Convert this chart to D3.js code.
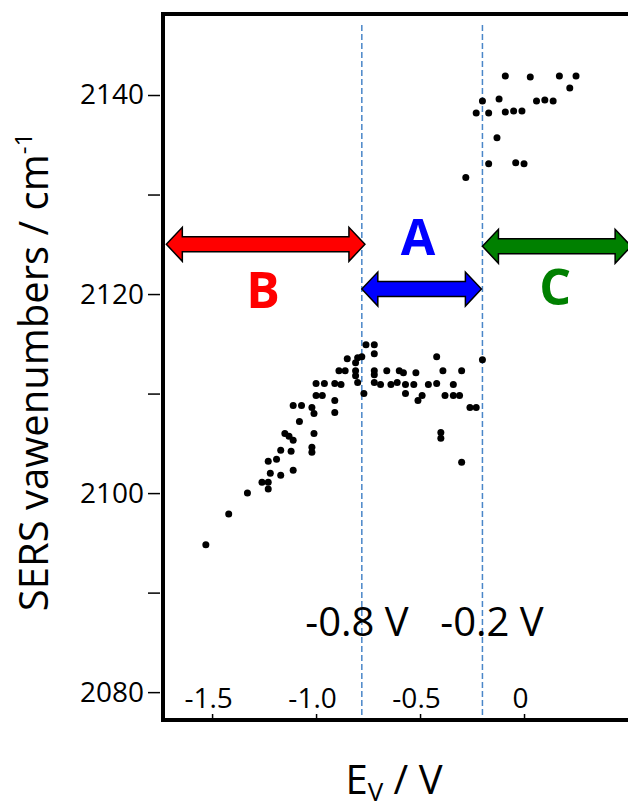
<!DOCTYPE html>
<html>
<head>
  <script src="https://d3js.org/d3.v7.min.js"></script>
  <style>
    body { margin: 0; background: #fff; }
    text { font-family: "Open Sans", "Noto Sans", sans-serif; }
  </style>
</head>
<body>
  <svg id="canvas" width="628" height="804"></svg>
  <script>
    const svg = d3.select("#canvas");
    const width = +svg.attr("width");
    const height = +svg.attr("height");

    // measured points: electrode potential (V) vs SERS wavenumber (cm-1)
    const potential = [
      -1.53, -1.42, -1.33, -1.26, -1.23, -1.23, -1.22, -1.17, -1.11, -1.23,
      -1.19, -1.17, -1.12, -1.02, -1.02, -1.15, -1.13, -1.11, -1.01, -1.08,
      -1.11, -1.07, -1.02, -1.01, -0.91, -0.91, -1.00, -0.97, -1.00, -0.96,
      -0.91, -0.88, -0.89, -0.86, -0.81, -0.81, -0.80, -0.85, -0.81, -0.80,
      -0.78, -0.76, -0.72, -0.72, -0.77, -0.72, -0.72, -0.72, -0.69, -0.66,
      -0.64, -0.61, -0.60, -0.58, -0.57, -0.53, -0.57, -0.52, -0.51, -0.49,
      -0.46, -0.42, -0.42, -0.39, -0.34, -0.38, -0.34, -0.31, -0.30, -0.26,
      -0.23, -0.40, -0.40, -0.30, -0.20,
      -0.28, -0.17, -0.04, 0.00, -0.13, -0.23, -0.17, -0.20, -0.12, -0.09,
      -0.05, -0.01, 0.06, 0.10, 0.14, -0.09, 0.03, 0.17, 0.25, 0.22
    ];
    const wavenumber = [
      2094.8, 2097.9, 2100.0, 2101.1, 2101.1, 2100.4, 2102.0, 2101.8, 2102.3, 2103.2,
      2103.4, 2104.3, 2104.2, 2104.6, 2104.1, 2106.0, 2105.7, 2105.3, 2106.0, 2107.2,
      2108.8, 2108.8, 2108.6, 2108.0, 2109.3, 2108.1, 2109.8, 2109.8, 2111.0, 2111.0,
      2111.0, 2110.9, 2112.3, 2112.3, 2112.3, 2111.8, 2111.1, 2113.5, 2113.1, 2113.6,
      2113.7, 2114.9, 2114.9, 2114.0, 2110.0, 2112.3, 2111.9, 2111.1, 2110.9, 2112.3,
      2110.9, 2111.1, 2112.3, 2112.1, 2110.9, 2110.9, 2110.0, 2112.1, 2109.3, 2109.8,
      2110.9, 2113.7, 2111.0, 2112.3, 2110.9, 2109.8, 2109.8, 2109.8, 2112.3, 2108.6,
      2108.6, 2106.1, 2105.5, 2103.1, 2113.4,
      2131.7, 2133.1, 2133.2, 2133.1, 2135.7, 2138.2, 2138.2, 2139.4, 2139.6, 2138.3,
      2138.4, 2138.4, 2139.4, 2139.5, 2139.4, 2141.9, 2141.8, 2141.9, 2141.9, 2140.7
    ];

    // regions A / B / C with their arrows
    const regionNames = ["B", "A", "C"];
    const regionStart = [-1.72, -0.78, -0.2];
    const regionEnd = [-0.765, -0.205, 0.515];
    const arrowLevel = [2125.0, 2120.5, 2124.8];
    const labelX = [-1.255, -0.51, 0.15];
    const labelY = [2118.6, 2123.9, 2118.9];
    const regionColors = ["#ff0000", "#0000ff", "#008000"];

    // boundary potentials
    const boundaries = [-0.78, -0.2];
    const boundaryText = ["-0.8 V", "-0.2 V"];
    const boundaryTextX = [-0.803, -0.154];

    const xTicks = [-1.5, -1.0, -0.5, 0];
    const xTickLabels = ["-1.5", "-1.0", "-0.5", "0"];
    const yTicks = [2080, 2090, 2100, 2110, 2120, 2130, 2140];

    const margin = { left: 163, top: 14, bottom: 84 };
    const plotBottom = height - margin.bottom;

    const x = d3.scaleLinear().domain([-1.736, 0.75]).range([margin.left, 680]);
    const y = d3.scaleLinear().domain([2077.2, 2148.14]).range([plotBottom, margin.top]);

    svg.append("rect").attr("width", width).attr("height", height).attr("fill", "#fff");

    // dashed boundaries
    svg.selectAll("line.bound")
      .data(boundaries)
      .enter()
      .append("line")
      .attr("class", "bound")
      .attr("x1", d => x(d)).attr("x2", d => x(d))
      .attr("y1", margin.top + 11).attr("y2", plotBottom)
      .attr("stroke", "#4a86c8")
      .attr("stroke-width", 1.5)
      .attr("stroke-dasharray", "6,3");

    // y axis
    const yAxis = d3.axisLeft(y)
      .tickValues(yTicks)
      .tickSize(12)
      .tickPadding(4)
      .tickFormat(d => d % 20 === 0 ? d : "");
    const gy = svg.append("g")
      .attr("transform", `translate(${margin.left - 3},0)`)
      .call(yAxis);
    gy.select(".domain").remove();
    gy.selectAll("line").attr("stroke", "#000").attr("stroke-width", 1.5);
    gy.selectAll("text")
      .attr("font-size", 28)
      .attr("fill", "#000")
      .attr("font-family", "Open Sans, sans-serif");

    // x axis (ticks and labels inside the box)
    const xAxis = d3.axisTop(x)
      .tickValues(xTicks)
      .tickSize(6)
      .tickPadding(6)
      .tickFormat((d, i) => xTickLabels[i]);
    const gx = svg.append("g")
      .attr("transform", `translate(0,${plotBottom})`)
      .call(xAxis);
    gx.select(".domain").remove();
    gx.selectAll("line").attr("stroke", "#000").attr("stroke-width", 1.5);
    gx.selectAll("text")
      .attr("font-size", 28)
      .attr("fill", "#000")
      .attr("dx", -4)
      .attr("font-family", "Open Sans, sans-serif");

    // frame
    const frame = svg.append("g").attr("stroke", "#000").attr("stroke-width", 4).attr("fill", "none");
    frame.append("path")
      .attr("d", `M${width + 10},${margin.top}H${margin.left}V${plotBottom}H${width + 10}`);

    // points
    svg.append("g")
      .selectAll("circle")
      .data(potential.map((p, i) => [p, wavenumber[i]]))
      .enter()
      .append("circle")
      .attr("cx", d => x(d[0]))
      .attr("cy", d => y(d[1]))
      .attr("r", 3.5)
      .attr("fill", "#000");

    // double arrows
    function doubleArrow(x1, x2, yc) {
      const h = 16, H = 17, s = 7.5;
      return `M${x1},${yc}L${x1 + h},${yc - H}L${x1 + h},${yc - s}L${x2 - h},${yc - s}` +
        `L${x2 - h},${yc - H}L${x2},${yc}L${x2 - h},${yc + H}L${x2 - h},${yc + s}` +
        `L${x1 + h},${yc + s}L${x1 + h},${yc + H}Z`;
    }
    svg.append("g")
      .selectAll("path")
      .data(regionNames)
      .enter()
      .append("path")
      .attr("d", (d, i) => doubleArrow(x(regionStart[i]), x(regionEnd[i]), y(arrowLevel[i])))
      .attr("fill", (d, i) => regionColors[i])
      .attr("stroke", "#000")
      .attr("stroke-width", 1.5)
      .attr("stroke-linejoin", "miter");

    svg.append("g")
      .selectAll("text")
      .data(regionNames)
      .enter()
      .append("text")
      .attr("x", (d, i) => x(labelX[i]))
      .attr("y", (d, i) => y(labelY[i]))
      .attr("text-anchor", "middle")
      .attr("font-size", 50)
      .attr("font-weight", "bold")
      .attr("fill", (d, i) => regionColors[i])
      .text(d => d);

    // boundary labels
    svg.append("g")
      .selectAll("text")
      .data(boundaryText)
      .enter()
      .append("text")
      .attr("x", (d, i) => x(boundaryTextX[i]))
      .attr("y", y(2085.6))
      .attr("text-anchor", "middle")
      .attr("font-size", 40)
      .attr("fill", "#000")
      .text(d => d);

    // axis titles
    const yt = svg.append("text")
      .attr("transform", `translate(48,372) rotate(-90)`)
      .attr("text-anchor", "middle")
      .attr("font-size", 40)
      .attr("fill", "#000");
    yt.append("tspan").text("SERS vawenumbers / cm");
    yt.append("tspan").attr("font-size", 24).attr("dy", -16).text("-1");

    const xt = svg.append("text")
      .attr("x", 394)
      .attr("y", 794)
      .attr("text-anchor", "middle")
      .attr("font-size", 40)
      .attr("fill", "#000");
    xt.append("tspan").text("E");
    xt.append("tspan").attr("font-size", 26).attr("dy", 7).text("V");
    xt.append("tspan").attr("dy", -7).text(" / V");
  </script>
</body>
</html>
